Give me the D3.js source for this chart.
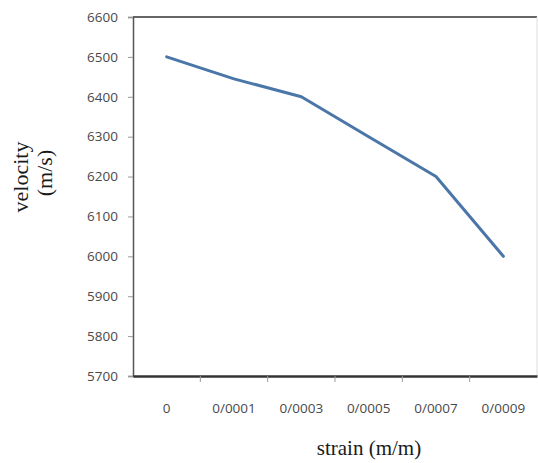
<!DOCTYPE html>
<html>
<head>
<meta charset="utf-8">
<script src="https://cdn.jsdelivr.net/npm/d3@7"></script>
<style>
  body { margin: 0; background: #fff; }
  .tick text { font-family: "Open Sans", "Liberation Sans", sans-serif; font-size: 13.5px; fill: #4a4a4a; }
  .axisTitle { font-family: "Liberation Serif", "DejaVu Serif", serif; font-size: 21px; fill: #1a1a1a; }
</style>
</head>
<body>
<div id="plotDiv"></div>
<script>
// data
var strainLabels = ["0", "0/0001", "0/0003", "0/0005", "0/0007", "0/0009"];
var velocity = [6500, 6445, 6400, 6300, 6200, 6000];
var yTicks = [5700, 5800, 5900, 6000, 6100, 6200, 6300, 6400, 6500, 6600];

var W = 538, H = 463;
var margin = {top: 17, right: 1, bottom: 87, left: 133};

var svg = d3.select('#plotDiv')
    .append('svg')
    .attr('width', W)
    .attr('height', H);

var x = d3.scaleBand()
    .domain(strainLabels)
    .range([margin.left, W - margin.right]);

var y = d3.scaleLinear()
    .domain([5700, 6600])
    .range([H - margin.bottom, margin.top]);

// frame top + right
svg.append('line')
    .attr('x1', margin.left).attr('x2', W - margin.right)
    .attr('y1', y(6600)).attr('y2', y(6600))
    .attr('stroke', '#666').attr('stroke-width', 2);
svg.append('line')
    .attr('x1', W - margin.right).attr('x2', W - margin.right)
    .attr('y1', y(6600)).attr('y2', y(5700))
    .attr('stroke', '#ddd').attr('stroke-width', 1);

// y axis
var yAxis = svg.append('g')
    .attr('transform', 'translate(' + margin.left + ',0)')
    .call(d3.axisLeft(y).tickValues(yTicks).tickFormat(d3.format('d')).tickSize(5).tickPadding(10));
yAxis.select('.domain').attr('stroke', '#555').attr('stroke-width', 1.5);
yAxis.selectAll('.tick line').attr('stroke', '#999');

// x axis, labels centred in bands, ticks on band edges
var xAxis = svg.append('g')
    .attr('transform', 'translate(0,' + y(5700) + ')')
    .call(d3.axisBottom(x).tickSize(0).tickPadding(27).tickSizeOuter(0));
xAxis.select('.domain').attr('stroke', '#333').attr('stroke-width', 2.5);

svg.append('g')
    .selectAll('line')
    .data(strainLabels.slice(1))
    .enter()
    .append('line')
    .attr('x1', function(d) { return x(d); })
    .attr('x2', function(d) { return x(d); })
    .attr('y1', y(5700))
    .attr('y2', y(5700) + 6)
    .attr('stroke', '#999');

// the curve
var line = d3.line()
    .x(function(d, i) { return x(strainLabels[i]) + x.bandwidth() / 2; })
    .y(function(d) { return y(d); });

svg.append('path')
    .datum(velocity)
    .attr('d', line)
    .attr('fill', 'none')
    .attr('stroke', '#4a76a8')
    .attr('stroke-width', 3)
    .attr('stroke-linecap', 'round')
    .attr('stroke-linejoin', 'round');

// titles
svg.append('text')
    .attr('class', 'axisTitle')
    .attr('transform', 'translate(28,177) rotate(-90)')
    .attr('text-anchor', 'middle')
    .style('font-size', '22px')
    .text('velocity');
svg.append('text')
    .attr('class', 'axisTitle')
    .attr('transform', 'translate(52,173) rotate(-90)')
    .attr('text-anchor', 'middle')
    .style('font-size', '22px')
    .text('(m/s)');

svg.append('text')
    .attr('class', 'axisTitle')
    .attr('x', 369)
    .attr('y', 455)
    .attr('text-anchor', 'middle')
    .text('strain (m/m)');
</script>
</body>
</html>
